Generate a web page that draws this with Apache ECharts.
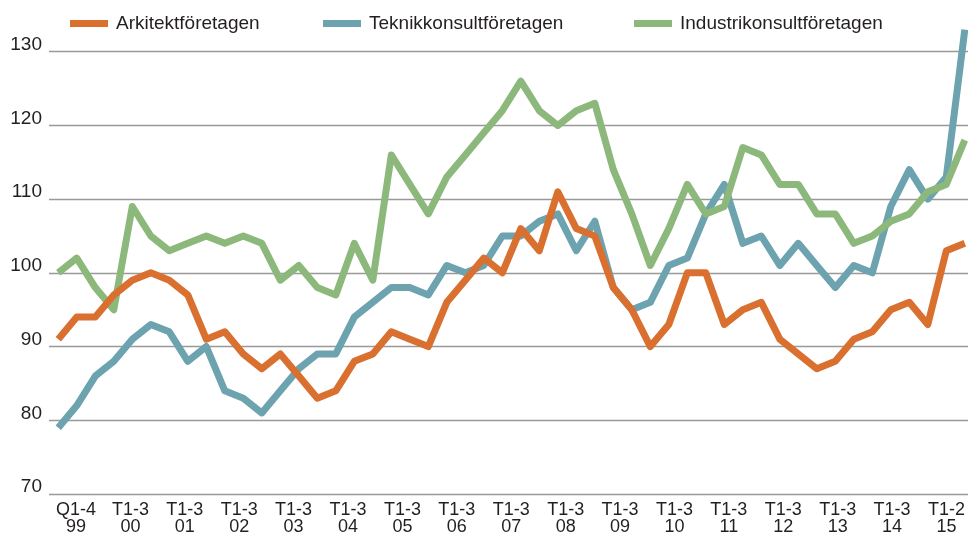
<!DOCTYPE html>
<html>
<head>
<meta charset="utf-8">
<script src="https://cdn.jsdelivr.net/npm/echarts@6/dist/echarts.min.js"></script>
<style>
html,body{margin:0;padding:0;background:#fff;}
#chart{width:968px;height:536px;}
</style>
</head>
<body>
<div id="chart"></div>
<script>
// ---- data ----
const categories = [
  '99:1','99:2','99:3',
  '00:T1','00:T2','00:T3','01:T1','01:T2','01:T3','02:T1','02:T2','02:T3',
  '03:T1','03:T2','03:T3','04:T1','04:T2','04:T3','05:T1','05:T2','05:T3',
  '06:T1','06:T2','06:T3','07:T1','07:T2','07:T3','08:T1','08:T2','08:T3',
  '09:T1','09:T2','09:T3','10:T1','10:T2','10:T3','11:T1','11:T2','11:T3',
  '12:T1','12:T2','12:T3','13:T1','13:T2','13:T3','14:T1','14:T2','14:T3',
  '15:T1','15:T2'
];
const tickLabels = ['Q1-4\n99','T1-3\n00','T1-3\n01','T1-3\n02','T1-3\n03','T1-3\n04','T1-3\n05','T1-3\n06','T1-3\n07','T1-3\n08','T1-3\n09','T1-3\n10','T1-3\n11','T1-3\n12','T1-3\n13','T1-3\n14','T1-2\n15'];
const yTicks = [70, 80, 90, 100, 110, 120, 130];

const arkitekt = [91,94,94,97,99,100,99,97,91,92,89,87,89,86,83,84,88,89,92,91,90,96,99,102,100,106,103,111,106,105,98,95,90,93,100,100,93,95,96,91,89,87,88,91,92,95,96,93,103,104];
const teknik   = [79,82,86,88,91,93,92,88,90,84,83,81,84,87,89,89,94,96,98,98,97,101,100,101,105,105,107,108,103,107,98,95,96,101,102,108,112,104,105,101,104,101,98,101,100,109,114,110,113,133];
const industri = [100,102,98,95,109,105,103,104,105,104,105,104,99,101,98,97,104,99,116,112,108,113,116,119,122,126,122,120,122,123,114,108,101,106,112,108,109,117,116,112,112,108,108,104,105,107,108,111,112,118];

const names = ['Arkitektföretagen','Teknikkonsultföretagen','Industrikonsultföretagen'];
const colors = ['#D9702F','#6CA3AF','#8CB87B'];

// ---- chart ----
const chart = echarts.init(document.getElementById('chart'), null, {renderer:'canvas'});
const font = 'Liberation Sans, Arial, Helvetica, sans-serif';
const legendLefts = [65, 318, 629];
const yMin = yTicks[0], yMax = yTicks[yTicks.length-1];

function mkSeries(i, data){
  return {
    name: names[i], type:'line', data: data,
    xAxisIndex:0, yAxisIndex:0,
    symbol:'none', showSymbol:false, clip:false, animation:false,
    lineStyle:{color:colors[i], width:7, join:'round', cap:'butt'},
    itemStyle:{color:colors[i]}
  };
}

chart.setOption({
  backgroundColor:'#ffffff',
  animation:false,
  legend: names.map((n,i)=>({
    data:[n], left:legendLefts[i], top:9,
    icon:'rect', itemWidth:38, itemHeight:7,
    textStyle:{fontFamily:font, fontSize:19, color:'#231F20', padding:[0,0,0,3]}
  })),
  grid:[
    {left:58.3, right:3.2, top:51.7, bottom:42},   // data
    {left:49, right:0, top:51.7, bottom:42},       // y labels + gridlines
    {left:76, right:18, top:51.7, bottom:42}       // x tick labels
  ],
  xAxis:[
    {type:'category', gridIndex:0, data:categories, boundaryGap:false, show:false},
    {type:'category', gridIndex:1, data:categories, boundaryGap:false, show:false},
    {type:'category', gridIndex:2, data:tickLabels, boundaryGap:false,
     axisLine:{show:false}, axisTick:{show:false}, splitLine:{show:false},
     axisLabel:{interval:0, fontFamily:font, fontSize:18, lineHeight:17, color:'#231F20', margin:12}}
  ],
  yAxis:[
    {type:'value', gridIndex:0, min:yMin, max:yMax, interval:10, show:false, splitLine:{show:false}},
    {type:'value', gridIndex:1, min:yMin, max:yMax, interval:10,
     axisLine:{show:false}, axisTick:{show:false},
     axisLabel:{fontFamily:font, fontSize:19, color:'#231F20', margin:7, verticalAlign:'bottom', lineHeight:14},
     splitLine:{show:true, lineStyle:{color:'#999999', width:1.3}}},
    {type:'value', gridIndex:2, show:false, min:0, max:1}
  ],
  series:[
    mkSeries(1, teknik),
    mkSeries(2, industri),
    mkSeries(0, arkitekt)
  ]
});
</script>
</body>
</html>
